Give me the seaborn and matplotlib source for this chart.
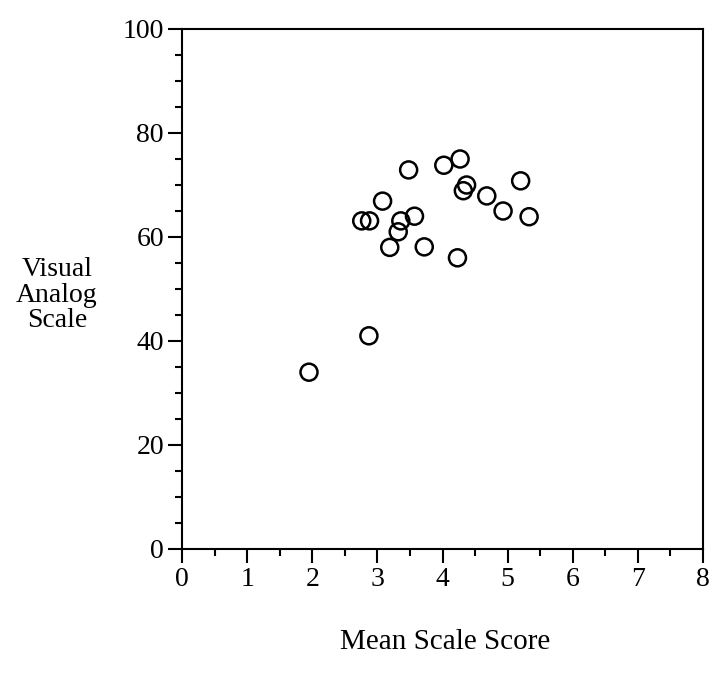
import matplotlib
matplotlib.use("Agg")
import matplotlib.pyplot as plt
import seaborn as sns
import pandas as pd
from matplotlib.ticker import MultipleLocator

mean_scale_score = [1.95, 2.87, 2.76, 2.88, 3.08, 3.19, 3.32, 3.36, 3.57, 3.48,
                    3.72, 4.02, 4.27, 4.23, 4.37, 4.32, 4.68, 4.93, 5.20, 5.33]
visual_analog = [34.0, 41.0, 63.1, 63.1, 66.9, 58.0, 61.0, 63.1, 64.0, 72.9,
                 58.1, 73.8, 75.0, 56.0, 70.0, 68.9, 67.9, 65.0, 70.8, 63.9]
x_ticks = [0, 1, 2, 3, 4, 5, 6, 7, 8]
y_ticks = [0, 20, 40, 60, 80, 100]

df = pd.DataFrame({"x": mean_scale_score, "y": visual_analog})

sns.set_style("white")
plt.rcParams['font.family'] = ['Liberation Serif', 'DejaVu Serif']
plt.rcParams['text.color'] = 'black'

fig = plt.figure(figsize=(7.12, 6.74), dpi=100)
ax = fig.add_axes([182/712, 1 - 549/674, (703 - 182)/712, (549 - 29)/674])

sns.scatterplot(data=df, x="x", y="y", ax=ax, s=150, marker="o",
                facecolors="none", edgecolor="black", linewidth=1.8, legend=False)

ax.set_xlim(0, 8)
ax.set_ylim(0, 100)
ax.set_xticks(x_ticks)
ax.set_yticks(y_ticks)
ax.set_xticklabels([str(t) for t in x_ticks])
ax.set_yticklabels([str(t) for t in y_ticks])
ax.xaxis.set_minor_locator(MultipleLocator(0.5))
ax.yaxis.set_minor_locator(MultipleLocator(5))
ax.tick_params(which="major", direction="out", length=10, width=1.5,
               labelsize=20, color="black", labelcolor="black", pad=3)
ax.tick_params(which="minor", direction="out", length=5, width=1.5, color="black")
ax.tick_params(axis="both", which="both", bottom=True, left=True, top=False, right=False)
for sp in ax.spines.values():
    sp.set_visible(True)
    sp.set_color("black")
    sp.set_linewidth(1.5)
ax.set_xlabel("")
ax.set_ylabel("")

fig.text(57/712, 1 - 295/674, "Visual\nAnalog\nScale", ha="center", va="center",
         fontsize=20, linespacing=1.05, color="black")
fig.text(445/712, 1 - 642/674, "Mean Scale Score", ha="center", va="center",
         fontsize=21, color="black")

fig.savefig("out.png", dpi=100)
